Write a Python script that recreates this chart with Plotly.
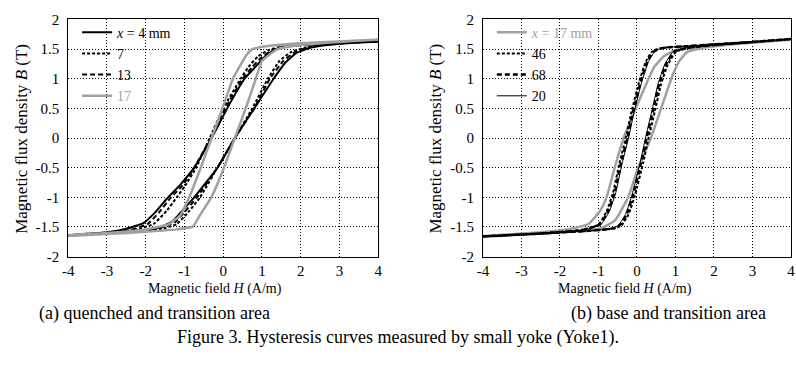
import plotly.graph_objects as go

W, H = 796, 366
FONT = "Liberation Serif"
GRAY = "#a0a0a0"

# ---------------- (a) quenched and transition area ----------------
a4_desc_H = [4.0, 3.0, 2.0, 1.6, 1.3, 1.05, 0.8, 0.55, 0.1, -0.3, -0.75, -1.1, -1.45, -1.75, -2.05, -2.5, -3.0, -4.0]
a4_desc_B = [1.63, 1.61, 1.57, 1.54, 1.48, 1.36, 1.18, 1.0, 0.5, 0.0, -0.5, -0.78, -1.02, -1.25, -1.43, -1.53, -1.59, -1.64]
a4_asc_H = [-4.0, -3.0, -2.0, -1.6, -1.3, -1.05, -0.75, -0.15, 0.3, 0.8, 1.3, 1.6, 1.9, 2.3, 3.0, 4.0]
a4_asc_B = [-1.64, -1.6, -1.55, -1.5, -1.4, -1.22, -1.0, -0.5, 0.0, 0.5, 1.0, 1.27, 1.44, 1.53, 1.59, 1.63]

a7_desc_H = [4.0, 3.0, 2.0, 1.5, 1.15, 0.9, 0.65, 0.45, 0.0, -0.35, -0.7, -1.0, -1.2, -1.45, -1.8, -2.3, -3.0, -4.0]
a7_desc_B = [1.63, 1.61, 1.57, 1.54, 1.48, 1.38, 1.2, 1.0, 0.5, 0.0, -0.5, -0.82, -1.0, -1.22, -1.45, -1.55, -1.6, -1.64]
a7_asc_H = [-4.0, -3.0, -2.0, -1.5, -1.2, -0.9, -0.6, -0.15, 0.3, 0.75, 1.15, 1.45, 1.75, 2.2, 3.0, 4.0]
a7_asc_B = [-1.64, -1.6, -1.56, -1.52, -1.45, -1.25, -1.0, -0.5, 0.0, 0.5, 1.0, 1.3, 1.45, 1.54, 1.6, 1.63]

a13_desc_H = [4.0, 3.0, 2.0, 1.55, 1.25, 1.0, 0.75, 0.5, 0.05, -0.32, -0.75, -1.05, -1.35, -1.65, -1.95, -2.4, -3.0, -4.0]
a13_desc_B = [1.63, 1.61, 1.57, 1.54, 1.48, 1.37, 1.2, 1.0, 0.5, 0.0, -0.5, -0.8, -1.0, -1.25, -1.45, -1.55, -1.59, -1.64]
a13_asc_H = [-4.0, -3.0, -2.0, -1.55, -1.25, -1.0, -0.68, -0.15, 0.3, 0.8, 1.2, 1.55, 1.85, 2.25, 3.0, 4.0]
a13_asc_B = [-1.64, -1.6, -1.55, -1.5, -1.42, -1.25, -1.0, -0.5, 0.0, 0.5, 1.0, 1.3, 1.45, 1.54, 1.6, 1.63]

a17_desc_H = [4.0, 3.0, 2.0, 1.4, 1.0, 0.75, 0.6, 0.25, -0.02, -0.3, -0.58, -0.88, -1.1, -1.4, -2.0, -3.0, -4.0]
a17_desc_B = [1.66, 1.63, 1.6, 1.57, 1.54, 1.5, 1.4, 1.0, 0.5, 0.0, -0.5, -1.0, -1.3, -1.45, -1.54, -1.6, -1.64]
a17_asc_H = [-4.0, -3.0, -2.0, -1.2, -0.78, -0.6, -0.31, 0.02, 0.3, 0.58, 0.84, 1.0, 1.4, 2.0, 3.0, 4.0]
a17_asc_B = [-1.65, -1.62, -1.58, -1.54, -1.49, -1.3, -1.0, -0.5, 0.0, 0.5, 1.0, 1.3, 1.5, 1.57, 1.62, 1.66]

# ---------------- (b) base and transition area ----------------
b17_desc_H = [4.0, 3.0, 2.0, 1.4, 1.0, 0.7, 0.45, 0.3, 0.0, -0.35, -0.57, -0.79, -0.96, -1.26, -1.7, -2.5, -4.0]
b17_desc_B = [1.66, 1.62, 1.57, 1.53, 1.48, 1.38, 1.2, 1.0, 0.55, 0.0, -0.48, -1.0, -1.23, -1.45, -1.53, -1.59, -1.65]
b17_asc_H = [-4.0, -3.0, -1.85, -1.2, -0.92, -0.57, -0.23, 0.03, 0.36, 0.68, 0.92, 1.1, 1.3, 1.7, 2.5, 4.0]
b17_asc_B = [-1.65, -1.62, -1.58, -1.55, -1.52, -1.39, -1.0, -0.5, 0.0, 0.6, 1.05, 1.3, 1.45, 1.52, 1.58, 1.66]

b_desc_B = [1.67, 1.62, 1.58, 1.55, 1.53, 1.5, 1.45, 1.29, 0.96, 0.45, 0.0, -0.44, -0.92, -1.24, -1.46, -1.55, -1.61, -1.66]
b_asc_B = [-1.66, -1.61, -1.57, -1.55, -1.52, -1.47, -1.29, -0.96, -0.42, 0.0, 0.44, 0.92, 1.24, 1.46, 1.53, 1.57, 1.62, 1.67]

b46_desc_H = [4.0, 3.0, 2.0, 1.3, 0.8, 0.52, 0.38, 0.23, 0.06, -0.14, -0.29, -0.46, -0.62, -0.79, -1.0, -1.45, -2.5, -4.0]
b46_asc_H = [-4.0, -2.5, -1.35, -0.92, -0.55, -0.4, -0.22, -0.05, 0.16, 0.3, 0.46, 0.63, 0.8, 1.02, 1.45, 2.0, 3.0, 4.0]

b68_desc_H = [4.0, 3.0, 2.0, 1.3, 0.8, 0.55, 0.42, 0.27, 0.1, -0.1, -0.25, -0.42, -0.58, -0.75, -0.97, -1.4, -2.5, -4.0]
b68_asc_H = [-4.0, -2.5, -1.4, -0.97, -0.6, -0.45, -0.27, -0.1, 0.11, 0.25, 0.41, 0.58, 0.75, 0.97, 1.4, 2.0, 3.0, 4.0]

b20_desc_H = [4.0, 3.0, 2.0, 1.3, 0.8, 0.57, 0.45, 0.3, 0.13, -0.07, -0.22, -0.39, -0.55, -0.72, -0.94, -1.38, -2.5, -4.0]
b20_asc_H = [-4.0, -2.5, -1.42, -1.0, -0.63, -0.48, -0.3, -0.13, 0.08, 0.22, 0.38, 0.55, 0.72, 0.94, 1.38, 2.0, 3.0, 4.0]

x_ticks = [-4, -3, -2, -1, 0, 1, 2, 3, 4]
y_ticks = [-2, -1.5, -1, -0.5, 0, 0.5, 1, 1.5, 2]
y_tick_text = ["-2", "-1.5", "-1", "-0.5", "0", "0.5", "1", "1.5", "2"]
x_tick_text = ["-4", "-3", "-2", "-1", "0", "1", "2", "3", "4"]

fig = go.Figure()


def loop(dh, db, ah, ab, name, color, width, dash, xa, ya, legend):
    fig.add_trace(go.Scatter(
        x=dh + ah, y=db + ab, mode="lines", name=name,
        line=dict(color=color, width=width, dash=dash, shape="spline", smoothing=0.4),
        xaxis=xa, yaxis=ya, legend=legend, hoverinfo="skip"))


# (a)
loop(a4_desc_H, a4_desc_B, a4_asc_H, a4_asc_B, "<i>x</i> = 4 mm", "black", 2, "solid", "x", "y", "legend")
loop(a7_desc_H, a7_desc_B, a7_asc_H, a7_asc_B, "7", "black", 2, "3px,2px", "x", "y", "legend")
loop(a13_desc_H, a13_desc_B, a13_asc_H, a13_asc_B, "13", "black", 2, "5px,3px", "x", "y", "legend")
loop(a17_desc_H, a17_desc_B, a17_asc_H, a17_asc_B, f'<span style="color:{GRAY}">17</span>', GRAY, 2.5, "solid", "x", "y", "legend")

# (b)
loop(b17_desc_H, b17_desc_B, b17_asc_H, b17_asc_B, f'<span style="color:{GRAY}"><i>x</i> = 17 mm</span>', GRAY, 2.5, "solid", "x2", "y2", "legend2")
loop(b46_desc_H, b_desc_B, b46_asc_H, b_asc_B, "46", "black", 2, "3px,2px", "x2", "y2", "legend2")
loop(b68_desc_H, b_desc_B, b68_asc_H, b_asc_B, "68", "black", 2.5, "5px,3px", "x2", "y2", "legend2")
loop(b20_desc_H, b_desc_B, b20_asc_H, b_asc_B, "20", "black", 1, "solid", "x2", "y2", "legend2")


def px_x(p):
    return p / W


def px_y(p):
    return 1 - p / H


axis_common = dict(
    showline=True, mirror=True, linecolor="black", linewidth=1,
    showgrid=True, gridcolor="black", gridwidth=1, griddash="1px,2px",
    zeroline=False, ticks="", tickfont=dict(family=FONT, size=15, color="black"),
)

legend_common = dict(xanchor="left", yanchor="top", bgcolor="rgba(0,0,0,0)",
                     font=dict(family=FONT, size=14, color="black"), tracegroupgap=0, itemwidth=30)

fig.update_layout(
    width=W, height=H, margin=dict(l=0, r=0, t=0, b=0),
    paper_bgcolor="white", plot_bgcolor="white",
    font=dict(family=FONT, color="black"),
    xaxis=dict(domain=[px_x(63), px_x(377)], range=[-4, 4], tickvals=x_ticks, ticktext=x_tick_text,
               anchor="y", ticklabelstandoff=0, **axis_common),
    yaxis=dict(domain=[px_y(260), px_y(12)], range=[-2, 2], tickvals=y_ticks, ticktext=y_tick_text,
               anchor="x", ticklabelstandoff=5, **axis_common),
    xaxis2=dict(domain=[px_x(483), px_x(795)], range=[-4, 4], tickvals=x_ticks, ticktext=x_tick_text,
                anchor="y2", ticklabelstandoff=0, **axis_common),
    yaxis2=dict(domain=[px_y(260), px_y(12)], range=[-2, 2], tickvals=y_ticks, ticktext=y_tick_text,
                anchor="x2", ticklabelstandoff=5, **axis_common),
    legend=dict(x=px_x(72), y=px_y(9), **legend_common),
    legend2=dict(x=px_x(492), y=px_y(9), **legend_common),
)

ann = []
for cx in (212, 627):
    ann.append(dict(text="Magnetic field <i>H</i> (A/m)", x=px_x(cx), y=px_y(294), xref="paper", yref="paper",
                    showarrow=False, xanchor="center", yanchor="middle", font=dict(family=FONT, size=14)))
for cx in (15, 434):
    ann.append(dict(text="Magnetic flux density <i>B</i> (T)", x=px_x(cx), y=px_y(137), xref="paper", yref="paper",
                    showarrow=False, xanchor="center", yanchor="middle", textangle=-90,
                    font=dict(family=FONT, size=17)))
ann.append(dict(text="(a) quenched and transition area", x=px_x(150), y=px_y(319), xref="paper", yref="paper",
                showarrow=False, xanchor="center", yanchor="middle", font=dict(family=FONT, size=18)))
ann.append(dict(text="(b) base and transition area", x=px_x(671), y=px_y(319), xref="paper", yref="paper",
                showarrow=False, xanchor="center", yanchor="middle", font=dict(family=FONT, size=18)))
ann.append(dict(text="Figure 3. Hysteresis curves measured by small yoke (Yoke1).", x=px_x(397), y=px_y(345),
                xref="paper", yref="paper", showarrow=False, xanchor="center", yanchor="middle",
                font=dict(family=FONT, size=18)))
fig.update_layout(annotations=ann)

fig.write_html("out.html")
